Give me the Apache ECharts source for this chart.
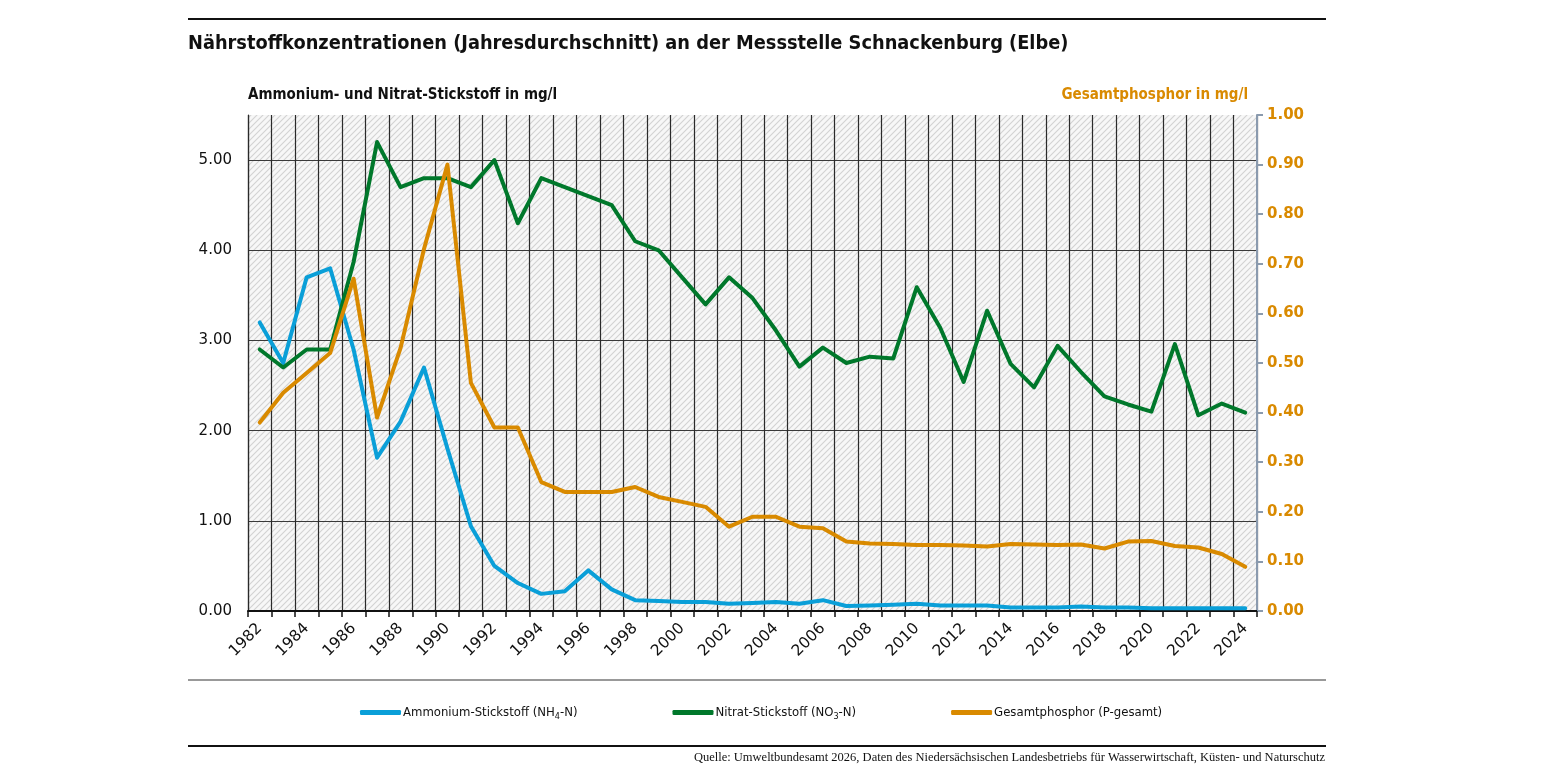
<!DOCTYPE html>
<html>
<head>
<meta charset="utf-8">
<script src="https://cdn.jsdelivr.net/npm/echarts@6/dist/echarts.min.js"></script>
<style>
  html, body { margin: 0; padding: 0; background: #fff; }
  #chart { width: 1545px; height: 775px; }
</style>
</head>
<body>
<div id="chart"></div>
<script>
/* Nährstoffe Schnackenburg (Elbe) — line chart, two y axes */
var years = [];
for (var y = 1982; y <= 2024; y++) years.push(String(y));

var ammonium = [3.2, 2.75, 3.7, 3.8, 2.9, 1.7, 2.1, 2.7, 1.8, 0.94, 0.5, 0.31, 0.19, 0.22, 0.45,
  0.24, 0.12, 0.11, 0.1, 0.1, 0.08, 0.09, 0.1, 0.08, 0.12, 0.055, 0.06, 0.07, 0.08, 0.06, 0.06,
  0.06, 0.04, 0.04, 0.04, 0.05, 0.04, 0.04, 0.03, 0.03, 0.03, 0.03, 0.03];
var nitrat = [2.9, 2.7, 2.9, 2.9, 3.87, 5.2, 4.7, 4.8, 4.8, 4.7, 5.0, 4.3, 4.8, 4.7, 4.6,
  4.5, 4.1, 4.0, 3.7, 3.4, 3.7, 3.47, 3.11, 2.71, 2.92, 2.75, 2.82, 2.8, 3.59, 3.14, 2.54,
  3.33, 2.74, 2.48, 2.94, 2.65, 2.38, 2.29, 2.21, 2.96, 2.17, 2.3, 2.2];
var phosphor = [0.38, 0.44, 0.48, 0.52, 0.67, 0.39, 0.53, 0.73, 0.9, 0.46, 0.37, 0.37, 0.26, 0.24, 0.24,
  0.24, 0.25, 0.23, 0.22, 0.21, 0.17, 0.19, 0.19, 0.17, 0.167, 0.14, 0.136, 0.135, 0.133, 0.133, 0.132,
  0.13, 0.135, 0.134, 0.133, 0.134, 0.126, 0.14, 0.141, 0.131, 0.128, 0.115, 0.089];

var names = ['Ammonium-Stickstoff (NH4-N)', 'Nitrat-Stickstoff (NO3-N)', 'Gesamtphosphor (P-gesamt)'];
var colors = ['#0a9fd8', '#00782b', '#d98a00'];

var sans = 'DejaVu Sans';
var narrow = '"Liberation Sans Narrow", "DejaVu Sans Condensed", sans-serif';

/* hatch tile for the plot background */
function hatch() {
  var s = 6, c = document.createElement('canvas');
  c.width = s; c.height = s;
  var g = c.getContext('2d');
  g.fillStyle = '#f7f7f7';
  g.fillRect(0, 0, s, s);
  g.strokeStyle = '#d2d2d2';
  g.lineWidth = 1.1;
  g.beginPath();
  g.moveTo(0, s); g.lineTo(s, 0);
  g.moveTo(-1, 1); g.lineTo(1, -1);
  g.moveTo(s - 1, s + 1); g.lineTo(s + 1, s - 1);
  g.stroke();
  return c;
}

var chart = echarts.init(document.getElementById('chart'), null, { renderer: 'canvas' });

function line(i, data, yIdx) {
  return {
    name: names[i], type: 'line', data: data, yAxisIndex: yIdx,
    showSymbol: false, symbol: 'none',
    lineStyle: { color: colors[i], width: 4, cap: 'round', join: 'round' },
    itemStyle: { color: colors[i] },
    z: 3 + i
  };
}

chart.setOption({
  animation: false,
  grid: {
    left: 248, right: 288, top: 115, bottom: 164,
    show: true, borderWidth: 0,
    backgroundColor: { image: hatch(), repeat: 'repeat' }
  },
  legend: {
    top: 701, left: 355, itemGap: 95,
    itemWidth: 41, itemHeight: 5, icon: 'roundRect',
    data: names,
    formatter: function (n) {
      return n.replace('NH4', 'NH{sub|4}').replace('NO3', 'NO{sub|3}');
    },
    textStyle: {
      fontFamily: narrow, fontSize: 13, color: '#111', padding: [0, 0, 0, -3],
      rich: { sub: { fontFamily: narrow, fontSize: 9, color: '#111', verticalAlign: 'bottom', padding: [8, 0, 0, 0] } }
    }
  },
  xAxis: {
    type: 'category', data: years, boundaryGap: true,
    axisLine: { lineStyle: { color: '#111', width: 2 } },
    axisTick: { show: true, length: 6, interval: 0, lineStyle: { color: '#111', width: 1.5 } },
    axisLabel: { interval: 1, rotate: 45, margin: 15, fontFamily: sans, fontSize: 15.5, color: '#111' },
    splitLine: { show: true, interval: 0, lineStyle: { color: '#2a2a2a', width: 1.2 } }
  },
  yAxis: [{
    type: 'value', min: 0, max: 5.5, interval: 1,
    axisLine: { show: true, lineStyle: { color: '#2a2a2a', width: 1.2 } },
    axisTick: { show: false },
    axisLabel: {
      margin: 16, fontFamily: sans, fontSize: 15, color: '#111',
      formatter: function (v) { return v % 1 === 0 ? v.toFixed(2) : ''; }
    },
    splitLine: { show: true, showMaxLine: false, lineStyle: { color: '#3a3a3a', width: 1.2 } }
  }, {
    type: 'value', min: 0, max: 1, interval: 0.1, position: 'right',
    axisLine: { show: true, lineStyle: { color: '#8a9aae', width: 2 } },
    axisTick: { show: true, length: 6, lineStyle: { color: '#8a9aae', width: 2 } },
    axisLabel: {
      margin: 10, fontFamily: sans, fontSize: 15, fontWeight: 'bold', color: colors[2],
      formatter: function (v) { return v.toFixed(2); }
    },
    splitLine: { show: false }
  }],
  series: [line(0, ammonium, 0), line(1, nitrat, 0), line(2, phosphor, 1)],
  graphic: [
    { type: 'line', shape: { x1: 188, y1: 19, x2: 1326, y2: 19 }, style: { stroke: '#111', lineWidth: 2 } },
    { type: 'line', shape: { x1: 188, y1: 680, x2: 1326, y2: 680 }, style: { stroke: '#777', lineWidth: 1.5 } },
    { type: 'line', shape: { x1: 188, y1: 746, x2: 1326, y2: 746 }, style: { stroke: '#111', lineWidth: 2 } },
    {
      type: 'text', left: 188, top: 34,
      style: {
        text: 'Nährstoffkonzentrationen (Jahresdurchschnitt) an der Messstelle Schnackenburg (Elbe)',
        font: 'bold 19.8px ' + narrow, fill: '#111'
      }
    },
    {
      type: 'text', left: 248, top: 88,
      style: { text: 'Ammonium- und Nitrat-Stickstoff in mg/l', font: 'bold 15px ' + narrow, fill: '#111' }
    },
    {
      type: 'text', right: 297, top: 88,
      style: { text: 'Gesamtphosphor in mg/l', font: 'bold 15px ' + narrow, fill: colors[2] }
    },
    {
      type: 'text', right: 220, top: 751,
      style: {
        text: 'Quelle: Umweltbundesamt 2026, Daten des Niedersächsischen Landesbetriebs für Wasserwirtschaft, Küsten- und Naturschutz',
        font: '12.5px "Liberation Serif", serif', fill: '#111'
      }
    }
  ]
});
</script>
</body>
</html>
